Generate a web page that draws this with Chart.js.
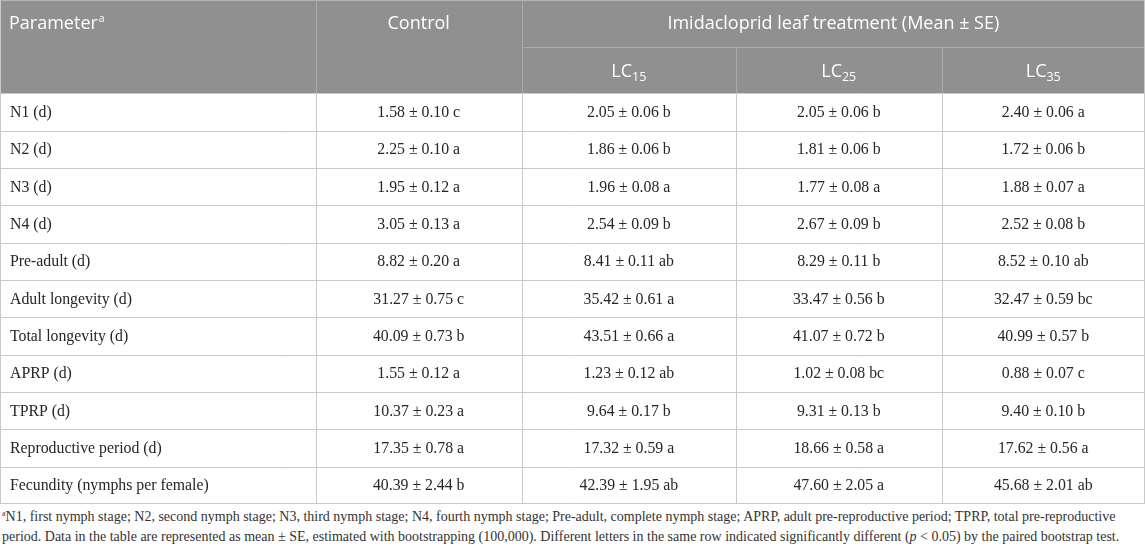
<!DOCTYPE html>
<html>
<head>
<meta charset="utf-8">
<script src="https://cdn.jsdelivr.net/npm/chart.js@4.4.1/dist/chart.umd.min.js"></script>
<style>
  html, body { margin: 0; padding: 0; background: #fff; }
  #wrap { position: relative; width: 1145px; height: 549px; overflow: hidden; }
  #table { display: block; }
  #note {
    position: absolute; left: 2px; top: 507px;
    font-family: "Liberation Serif", serif; font-size: 13px;
    line-height: 20px; color: #333; white-space: nowrap;
  }
  #note sup { font-size: 8px; vertical-align: 5px; line-height: 0; }
</style>
</head>
<body>
<div id="wrap">
  <canvas id="table" width="1145" height="504"></canvas>
  <div id="note">
    <span class="line"><sup>a</sup>N1, first nymph stage; N2, second nymph stage; N3, third nymph stage; N4, fourth nymph stage; Pre-adult, complete nymph stage; APRP, adult pre-reproductive period; TPRP, total pre-reproductive</span><br>
    <span class="line">period. Data in the table are represented as mean ± SE, estimated with bootstrapping (100,000). Different letters in the same row indicated significantly different (<i>p</i> &lt; 0.05) by the paired bootstrap test.</span>
  </div>
</div>
<script>
// 표 데이터
const parameters = [
  "N1 (d)", "N2 (d)", "N3 (d)", "N4 (d)", "Pre-adult (d)", "Adult longevity (d)",
  "Total longevity (d)", "APRP (d)", "TPRP (d)", "Reproductive period (d)",
  "Fecundity (nymphs per female)",
];
const groups = ["Control", "LC15", "LC25", "LC35"];

const controlMean = [1.58, 2.25, 1.95, 3.05, 8.82, 31.27, 40.09, 1.55, 10.37, 17.35, 40.39];
const controlSE = [0.10, 0.10, 0.12, 0.13, 0.20, 0.75, 0.73, 0.12, 0.23, 0.78, 2.44];
const controlLetters = ["c", "a", "a", "a", "a", "c", "b", "a", "a", "a", "b"];

const lc15Mean = [2.05, 1.86, 1.96, 2.54, 8.41, 35.42, 43.51, 1.23, 9.64, 17.32, 42.39];
const lc15SE = [0.06, 0.06, 0.08, 0.09, 0.11, 0.61, 0.66, 0.12, 0.17, 0.59, 1.95];
const lc15Letters = ["b", "b", "a", "b", "ab", "a", "a", "ab", "b", "a", "ab"];

const lc25Mean = [2.05, 1.81, 1.77, 2.67, 8.29, 33.47, 41.07, 1.02, 9.31, 18.66, 47.60];
const lc25SE = [0.06, 0.06, 0.08, 0.09, 0.11, 0.56, 0.72, 0.08, 0.13, 0.58, 2.05];
const lc25Letters = ["b", "b", "a", "b", "b", "b", "b", "bc", "b", "a", "a"];

const lc35Mean = [2.40, 1.72, 1.88, 2.52, 8.52, 32.47, 40.99, 0.88, 9.40, 17.62, 45.68];
const lc35SE = [0.06, 0.06, 0.07, 0.08, 0.10, 0.59, 0.57, 0.07, 0.10, 0.56, 2.01];
const lc35Letters = ["a", "b", "a", "b", "ab", "bc", "b", "c", "b", "a", "ab"];

const headerParam = "Parameter";
const headerTreatment = "Imidacloprid leaf treatment (Mean ± SE)";

// 레이아웃 (스타일)
const colEdges = [0, 315.7, 521.7, 736, 941.5, 1145];
const headerRowUnits = 1.25;
const headerBg = "#909090";
const headerLine = "#ababab";
const bodyLine = "#c9c9c9";
const bodyFont = '15.8px "Liberation Serif"';
const headFont = '18px "Open Sans"';
const subFont = '12.5px "Open Sans"';

const columns = [
  [controlMean, controlSE, controlLetters],
  [lc15Mean, lc15SE, lc15Letters],
  [lc25Mean, lc25SE, lc25Letters],
  [lc35Mean, lc35SE, lc35Letters],
];

function cellText(col, i) {
  const [m, se, l] = columns[col];
  return m[i].toFixed(2) + " ± " + se[i].toFixed(2) + " " + l[i];
}

// LC15 -> LC + 아래첨자
function drawLC(ctx, label, cx, cy) {
  const base = label.slice(0, 2);
  const sub = label.slice(2);
  ctx.font = headFont;
  const w1 = ctx.measureText(base).width;
  ctx.font = subFont;
  const w2 = ctx.measureText(sub).width;
  const x0 = cx - (w1 + w2) / 2;
  ctx.textAlign = "left";
  ctx.font = headFont;
  ctx.fillText(base, x0, cy);
  ctx.font = subFont;
  ctx.fillText(sub, x0 + w1, cy + 5);
}

const tablePlugin = {
  id: "tablePlugin",
  afterDraw(chart) {
    const ctx = chart.ctx;
    const xs = chart.scales.x;
    const ys = chart.scales.y;
    const px = (v) => xs.getPixelForValue(v);
    const py = (v) => ys.getPixelForValue(v);
    const hTop = 0;
    const hMid = headerRowUnits;
    const hBot = headerRowUnits * 2;
    const nRows = parameters.length;

    ctx.save();

    // 헤더 배경
    ctx.fillStyle = headerBg;
    ctx.fillRect(px(colEdges[0]), py(hTop), px(colEdges[5]) - px(colEdges[0]), py(hBot) - py(hTop));

    const hline = (x1, x2, y, color) => {
      ctx.strokeStyle = color;
      ctx.lineWidth = 1;
      ctx.beginPath();
      const yy = Math.round(py(y)) + 0.5;
      ctx.moveTo(px(x1), yy);
      ctx.lineTo(px(x2), yy);
      ctx.stroke();
    };
    const vline = (x, y1, y2, color) => {
      ctx.strokeStyle = color;
      ctx.lineWidth = 1;
      ctx.beginPath();
      const xx = Math.round(px(x)) + 0.5;
      ctx.moveTo(xx, py(y1));
      ctx.lineTo(xx, py(y2));
      ctx.stroke();
    };

    // 헤더 선
    hline(colEdges[0], colEdges[5], hTop, "#b5b5b5");
    hline(colEdges[2], colEdges[5], hMid, headerLine);
    vline(colEdges[1], hTop, hBot, headerLine);
    vline(colEdges[2], hTop, hBot, headerLine);
    vline(colEdges[3], hMid, hBot, headerLine);
    vline(colEdges[4], hMid, hBot, headerLine);

    // 본문 선
    for (let i = 0; i <= nRows; i++) {
      const y = hBot + i;
      const yy = i === nRows ? y - 0.03 : y;
      hline(colEdges[0], colEdges[5], yy, bodyLine);
    }
    for (let c = 1; c < colEdges.length - 1; c++) {
      vline(colEdges[c], hBot, hBot + nRows, bodyLine);
    }
    vline(colEdges[0], hTop, hBot + nRows, "#c9c9c9");
    vline(colEdges[5] - 1, hTop, hBot + nRows, "#c9c9c9");

    // 헤더 텍스트
    ctx.fillStyle = "#ffffff";
    ctx.textBaseline = "middle";
    const row1y = py(hMid / 2) + 1;
    ctx.font = headFont;
    ctx.textAlign = "left";
    const px0 = px(colEdges[0]) + 9;
    ctx.fillText(headerParam, px0, row1y);
    const pw = ctx.measureText(headerParam).width;
    ctx.font = '10.5px "Open Sans"';
    ctx.fillText("a", px0 + pw + 1, row1y - 5);

    ctx.font = headFont;
    ctx.textAlign = "center";
    ctx.fillText(groups[0], (px(colEdges[1]) + px(colEdges[2])) / 2, row1y);
    ctx.fillText(headerTreatment, (px(colEdges[2]) + px(colEdges[5])) / 2, row1y);

    const row2y = py((hMid + hBot) / 2) + 2;
    for (let g = 1; g < groups.length; g++) {
      drawLC(ctx, groups[g], (px(colEdges[g + 1]) + px(colEdges[g + 2])) / 2, row2y);
    }

    // 본문 텍스트
    ctx.fillStyle = "#262626";
    ctx.font = bodyFont;
    for (let i = 0; i < nRows; i++) {
      const cy = py(hBot + i + 0.5) + 1;
      ctx.textAlign = "left";
      ctx.fillText(parameters[i], px(colEdges[0]) + 10, cy);
      ctx.textAlign = "center";
      for (let c = 0; c < columns.length; c++) {
        ctx.fillText(cellText(c, i), (px(colEdges[c + 1]) + px(colEdges[c + 2])) / 2, cy);
      }
    }

    ctx.restore();
  },
};

const chart = new Chart(document.getElementById("table").getContext("2d"), {
  type: "scatter",
  data: { datasets: [{ data: [], showLine: false }] },
  options: {
    responsive: false,
    animation: false,
    layout: { padding: 0 },
    plugins: { legend: { display: false }, tooltip: { enabled: false }, title: { display: false } },
    scales: {
      x: { type: "linear", min: colEdges[0], max: colEdges[colEdges.length - 1], display: false },
      y: { type: "linear", min: 0, max: headerRowUnits * 2 + parameters.length, reverse: true, display: false },
    },
  },
  plugins: [tablePlugin],
});

// 각주 폭 맞추기
document.fonts.ready.then(() => {
  const note = document.getElementById("note");
  const lines = note.querySelectorAll(".line");
  const w = Math.max(...Array.from(lines).map((s) => s.getBoundingClientRect().width));
  const target = 1118;
  note.style.fontSize = (13 * target / w).toFixed(2) + "px";
  chart.update();
});
</script>
</body>
</html>
